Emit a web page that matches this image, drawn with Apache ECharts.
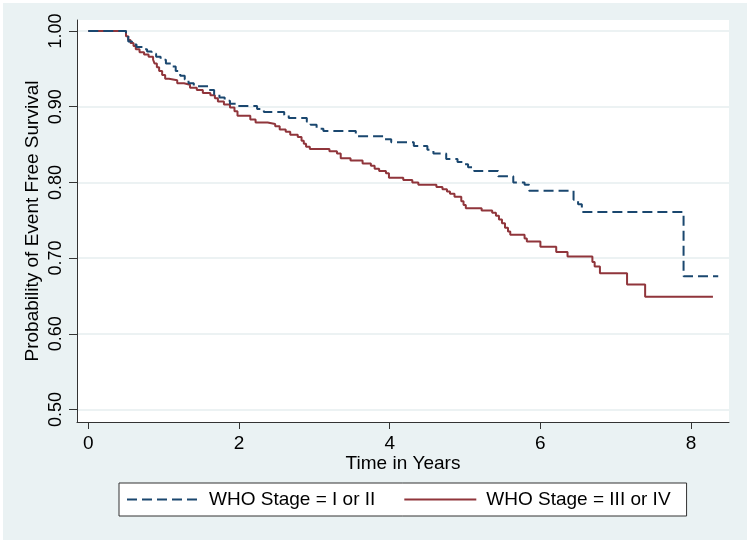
<!DOCTYPE html>
<html>
<head>
<meta charset="utf-8">
<script src="https://cdn.jsdelivr.net/npm/echarts@6/dist/echarts.min.js"></script>
<style>
html,body{margin:0;padding:0;background:#ffffff;}
#chart{position:absolute;left:3px;top:3px;width:744px;height:537px;}
</style>
</head>
<body>
<div id="chart"></div>
<script>
// ---- data ----
const seriesNames = ['WHO Stage = I or II', 'WHO Stage = III or IV'];
const xTicks = [0, 2, 4, 6, 8];
const yTicks = [0.5, 0.6, 0.7, 0.8, 0.9, 1.0];

// WHO Stage I or II (time in years, survival after drop)
const stage12Time = [0, 0.50, 0.53, 0.58, 0.64, 0.72, 0.78, 0.84, 0.90, 0.96, 1.03, 1.10, 1.16, 1.22, 1.28, 1.33, 1.40,
  1.60, 1.67, 1.74, 1.81, 1.88, 1.96, 2.24, 2.33, 2.60, 2.66, 2.90, 2.95, 3.03, 3.12, 3.55, 3.93, 4.02, 4.32, 4.50,
  4.58, 4.75, 4.90, 4.97, 5.04, 5.12, 5.44, 5.64, 5.79, 5.85, 6.44, 6.50, 6.55, 7.90, 8.36];
const stage12Surv = [1.0, 0.995, 0.986, 0.982, 0.979, 0.976, 0.973, 0.970, 0.966, 0.962, 0.957, 0.953, 0.947, 0.941, 0.936, 0.931, 0.927,
  0.922, 0.916, 0.912, 0.908, 0.904, 0.901, 0.897, 0.893, 0.889, 0.885, 0.880, 0.876, 0.871, 0.868, 0.861, 0.857, 0.853, 0.848, 0.843,
  0.838, 0.831, 0.827, 0.824, 0.820, 0.815, 0.808, 0.800, 0.797, 0.789, 0.777, 0.771, 0.761, 0.676, 0.676];

// WHO Stage III or IV
const stage34Time = [0, 0.50, 0.53, 0.56, 0.60, 0.63, 0.68, 0.74, 0.80, 0.86, 0.88, 0.91, 0.94, 0.98, 1.02, 1.07, 1.18, 1.27,
  1.35, 1.44, 1.52, 1.62, 1.68, 1.72, 1.80, 1.88, 1.94, 1.98, 2.15, 2.22, 2.38, 2.48, 2.54, 2.62, 2.68, 2.78, 2.83, 2.86,
  2.89, 2.94, 3.20, 3.30, 3.35, 3.48, 3.64, 3.75, 3.80, 3.86, 3.95, 3.99, 4.18, 4.30, 4.38, 4.62, 4.70, 4.76, 4.80, 4.86,
  4.95, 4.98, 5.01, 5.22, 5.36, 5.41, 5.45, 5.49, 5.53, 5.57, 5.60, 5.79, 5.82, 6.00, 6.21, 6.36, 6.69, 6.72, 6.79, 7.15,
  7.39, 8.29];
const stage34Surv = [1.0, 0.993, 0.988, 0.984, 0.980, 0.976, 0.972, 0.969, 0.966, 0.962, 0.957, 0.952, 0.947, 0.942, 0.937, 0.935, 0.931, 0.929,
  0.925, 0.922, 0.918, 0.915, 0.911, 0.907, 0.903, 0.899, 0.894, 0.888, 0.883, 0.879, 0.877, 0.874, 0.870, 0.867, 0.863, 0.860, 0.855, 0.851,
  0.847, 0.844, 0.841, 0.838, 0.832, 0.829, 0.825, 0.822, 0.818, 0.815, 0.812, 0.806, 0.803, 0.800, 0.797, 0.794, 0.791, 0.788, 0.785, 0.781,
  0.775, 0.770, 0.766, 0.763, 0.760, 0.756, 0.751, 0.746, 0.740, 0.735, 0.731, 0.726, 0.722, 0.715, 0.708, 0.702, 0.695, 0.689, 0.680, 0.665,
  0.649, 0.649];

function pairs(t, s) { return t.map((v, i) => [v, s[i]]); }

const FONT = 'Liberation Sans, Arial, sans-serif';
const NAVY = '#1a476f';
const MAROON = '#90353b';

const chart = echarts.init(document.getElementById('chart'), null, {renderer: 'canvas'});
chart.setOption({
  backgroundColor: '#eaf2f3',
  animation: false,
  textStyle: {fontFamily: FONT},
  grid: {left: 74, right: 18, top: 17, bottom: 118, show: true, backgroundColor: '#ffffff', borderWidth: 0},
  legend: {
    left: 116, top: 480,
    backgroundColor: '#ffffff', borderColor: '#333333', borderWidth: 1,
    padding: [7, 16, 7, 7],
    itemWidth: 72, itemHeight: 14, itemGap: 28,
    itemStyle: {opacity: 0},
    textStyle: {fontFamily: FONT, fontSize: 19, color: '#000000', padding: [0, 0, 0, 5]},
    data: seriesNames
  },
  xAxis: {
    type: 'value', min: -0.15, max: 8.503,
    name: 'Time in Years', nameLocation: 'middle', nameGap: 32, nameMoveOverlap: false,
    nameTextStyle: {fontFamily: FONT, fontSize: 19, color: '#000000'},
    axisLine: {show: true, onZero: false, lineStyle: {color: '#333333', width: 1}},
    axisTick: {show: true, length: 7, customValues: xTicks, lineStyle: {color: '#333333'}},
    axisLabel: {customValues: xTicks, fontFamily: FONT, fontSize: 19, color: '#000000', margin: 12},
    splitLine: {show: false}
  },
  yAxis: {
    type: 'value', min: 0.4835, max: 1.0145,
    name: 'Probability of Event Free Survival', nameLocation: 'middle', nameGap: 35, nameMoveOverlap: false,
    nameTextStyle: {fontFamily: FONT, fontSize: 19, color: '#000000'},
    axisLine: {show: true, onZero: false, lineStyle: {color: '#333333', width: 1}},
    axisTick: {show: true, length: 8, customValues: yTicks, lineStyle: {color: '#333333'}},
    axisLabel: {customValues: yTicks, rotate: 90, fontFamily: FONT, fontSize: 18, color: '#000000', margin: 12,
      formatter: v => v.toFixed(2)},
    splitLine: {show: true, customValues: yTicks, lineStyle: {color: '#e6eeef', width: 1.5}}
  },
  series: [
    {
      name: seriesNames[0], type: 'line', step: 'end', showSymbol: false, symbol: 'none',
      data: pairs(stage12Time, stage12Surv),
      lineStyle: {color: NAVY, width: 2, type: [10, 5]}, itemStyle: {color: NAVY}, z: 3
    },
    {
      name: seriesNames[1], type: 'line', step: 'end', showSymbol: false, symbol: 'none',
      data: pairs(stage34Time, stage34Surv),
      lineStyle: {color: MAROON, width: 2}, itemStyle: {color: MAROON}, z: 2
    }
  ]
});
</script>
</body>
</html>
